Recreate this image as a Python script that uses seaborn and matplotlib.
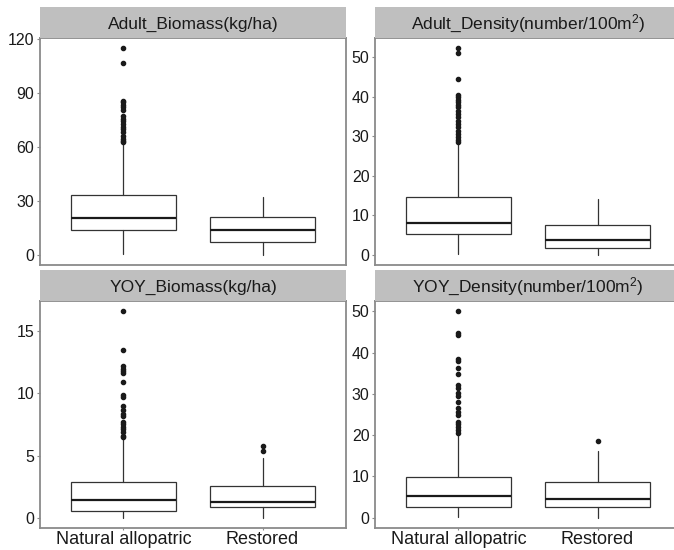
import matplotlib
matplotlib.use("Agg")
import matplotlib.pyplot as plt
import seaborn as sns

# ---------------- data ----------------
panels = ["Adult_Biomass(kg/ha)", "Adult_Density(number/100m$^2$)",
          "YOY_Biomass(kg/ha)", "YOY_Density(number/100m$^2$)"]
groups = ["Natural allopatric", "Restored"]

# per panel: [natural, restored]
whis_lo = [[0.5, 0.0], [0.25, 0.0], [0.0, 0.0], [0.2, 0.0]]
q1      = [[13.9, 6.9], [5.3, 1.7], [0.56, 0.83], [2.7, 2.7]]
median  = [[20.6, 13.9], [8.1, 3.6], [1.42, 1.29], [5.2, 4.5]]
q3      = [[33.1, 21.1], [14.7, 7.6], [2.9, 2.57], [9.8, 8.7]]
whis_hi = [[61.7, 32.2], [28.4, 14.0], [6.4, 4.77], [20.4, 16.2]]

outliers_ab = [[114.8, 106.9, 85.7, 84.8, 83.0, 82.0, 80.5, 76.9, 75.6, 74.3, 72.8,
                71.3, 70.0, 68.1, 66.3, 64.4, 63.2, 62.6], []]
outliers_ad = [[52.3, 51.2, 44.5, 40.5, 39.9, 39.3, 38.6, 37.9, 37.4, 36.5, 35.7, 34.8,
                34.0, 33.1, 32.3, 31.4, 30.6, 29.8, 29.1, 28.6], []]
outliers_yb = [[16.6, 13.45, 12.2, 12.0, 11.8, 11.6, 10.9, 9.9, 9.7, 9.0, 8.7, 8.3, 8.2,
                7.7, 7.5, 7.3, 7.1, 6.9, 6.6, 6.45], [5.79, 5.36]]
outliers_yd = [[50.0, 44.8, 44.2, 38.5, 38.0, 36.3, 34.8, 32.1, 31.5, 30.1, 29.5, 28.1,
                26.5, 25.6, 25.0, 23.2, 22.6, 22.0, 21.2, 20.6], [18.5]]
outliers = [outliers_ab, outliers_ad, outliers_yb, outliers_yd]

yticks = [[0, 30, 60, 90, 120], [0, 10, 20, 30, 40, 50], [0, 5, 10, 15],
          [0, 10, 20, 30, 40, 50]]

# ---------------- styling ----------------
sns.set_style("white")
plt.rcParams["font.family"] = ["Liberation Sans", "DejaVu Sans"]
plt.rcParams["mathtext.fontset"] = "custom"
plt.rcParams["mathtext.rm"] = "Liberation Sans"
plt.rcParams["mathtext.it"] = "Liberation Sans"

W, H = 674, 550
fig = plt.figure(figsize=(W / 100, H / 100), dpi=100)

# pixel layout (left, top) of each panel's plotting area
pw, ph = 306, 227
panel_pos = [(40, 38), (375, 38), (40, 301), (375, 301)]
strip_h = 31

border_col = "#8a8a8a"
strip_col = "#bfbfbf"

for i, title in enumerate(panels):
    x0, y0 = panel_pos[i]
    ax = fig.add_axes([x0 / W, (H - y0 - ph) / H, pw / W, ph / H])
    # strip
    sax = fig.add_axes([x0 / W, (H - y0) / H, pw / W, strip_h / H])
    sax.set_facecolor(strip_col)
    sax.set_xticks([]); sax.set_yticks([])
    for s in sax.spines.values():
        s.set_visible(False)
    sax.text(0.5, 0.45, title, ha="center", va="center", fontsize=12.5,
             color="#1a1a1a", transform=sax.transAxes)

    stats = []
    for g in range(2):
        stats.append(dict(label=groups[g], whislo=whis_lo[i][g], q1=q1[i][g],
                          med=median[i][g], q3=q3[i][g], whishi=whis_hi[i][g],
                          fliers=outliers[i][g]))
    ax.bxp(stats, positions=[1, 2], widths=0.75, showcaps=False, patch_artist=True,
           boxprops=dict(facecolor="white", edgecolor="#333333", linewidth=0.9),
           whiskerprops=dict(color="#333333", linewidth=0.9),
           medianprops=dict(color="#1a1a1a", linewidth=1.6),
           flierprops=dict(marker="o", markersize=3.0, markerfacecolor="#1a1a1a",
                           markeredgecolor="#1a1a1a", linestyle="none"))

    allv = [v for g in range(2) for v in [whis_lo[i][g], whis_hi[i][g]] + outliers[i][g]]
    lo, hi = min(allv), max(allv)
    pad = 0.05 * (hi - lo)
    ax.set_ylim(lo - pad, hi + pad)
    ax.set_xlim(0.4, 2.6)
    ax.set_yticks(yticks[i])
    ax.set_yticklabels([str(t) for t in yticks[i]], fontsize=11.5, color="#1a1a1a")
    ax.set_xticks([1, 2])
    if i >= 2:
        ax.set_xticklabels(groups, fontsize=13, color="#1a1a1a")
    else:
        ax.set_xticklabels([])
    ax.tick_params(axis="y", length=2.5, width=0.8, color=border_col, pad=1.5, left=True)
    ax.tick_params(axis="x", length=1.5, width=0.8, color=border_col, pad=0.8,
                   bottom=(i >= 2))
    for s in ax.spines.values():
        s.set_visible(True)
        s.set_color(border_col)
        s.set_linewidth(1.3)
    ax.set_xlabel("")
    ax.set_ylabel("")

fig.savefig("out.png", dpi=100, facecolor="white")
